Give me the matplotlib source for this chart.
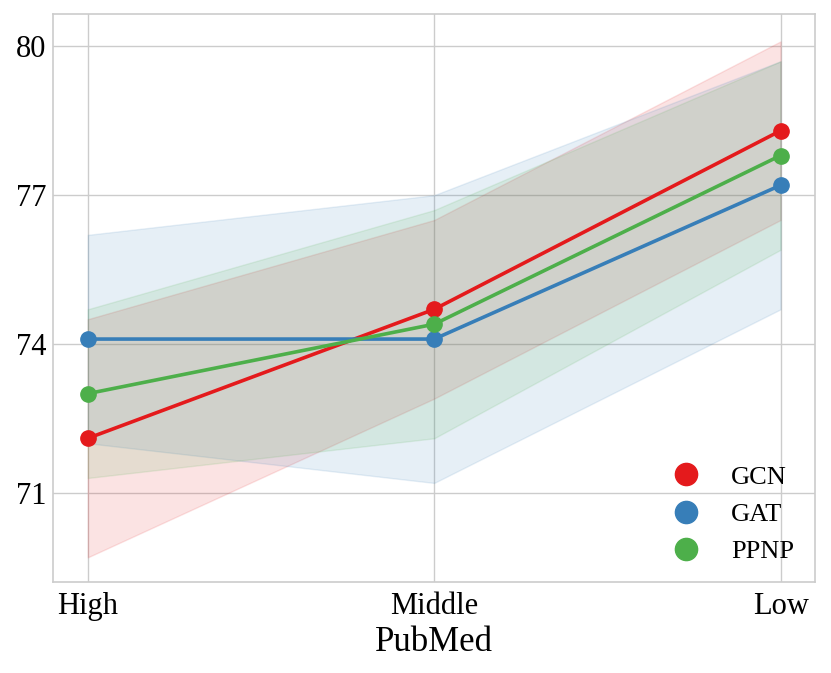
import numpy as np
import matplotlib.pyplot as plt
from matplotlib.lines import Line2D

# Data
levels = ["High", "Middle", "Low"]
models = ["GCN", "GAT", "PPNP"]
colors = ["#e41a1c", "#377eb8", "#4daf4a"]

gcn_mean = [72.1, 74.7, 78.3]
gcn_low = [69.7, 72.9, 76.5]
gcn_high = [74.5, 76.5, 80.1]

gat_mean = [74.1, 74.1, 77.2]
gat_low = [72.0, 71.2, 74.7]
gat_high = [76.2, 77.0, 79.7]

ppnp_mean = [73.0, 74.4, 77.8]
ppnp_low = [71.3, 72.1, 75.9]
ppnp_high = [74.7, 76.7, 79.7]

means = [gcn_mean, gat_mean, ppnp_mean]
lows = [gcn_low, gat_low, ppnp_low]
highs = [gcn_high, gat_high, ppnp_high]

plt.rcParams['font.family'] = ['Liberation Serif', 'DejaVu Serif']

fig, ax = plt.subplots(figsize=(8.31, 6.73), dpi=100)
fig.subplots_adjust(left=0.064, right=0.981, top=0.979, bottom=0.135)

x = np.arange(len(levels))
for name, c, m, lo, hi in zip(models, colors, means, lows, highs):
    ax.fill_between(x, lo, hi, color=c, alpha=0.12, linewidth=1)
    ax.plot(x, m, color=c, linewidth=2.6, marker='o', markersize=11, label=name)

ax.set_xlim(-0.1, 2.1)
ax.set_ylim(69.2, 80.65)
ax.set_xticks(x)
ax.set_xticklabels(levels)
ax.set_yticks([71, 74, 77, 80])
ax.tick_params(labelsize=22, length=0)
ax.tick_params(axis='x', pad=7)
ax.tick_params(axis='y', pad=5)
ax.set_xlabel("PubMed", fontsize=25, labelpad=4)

ax.grid(True, color='#cccccc', linewidth=1)
ax.set_axisbelow(True)
for s in ax.spines.values():
    s.set_color('#cccccc')
    s.set_linewidth(1.2)

handles = [Line2D([], [], linestyle='none', marker='o', markersize=16, color=c) for c in colors]
ax.legend(handles, models, loc='lower right', frameon=False, fontsize=19,
          handletextpad=0.7, labelspacing=0.52, bbox_to_anchor=(1.003, -0.008))

fig.savefig("out.png", dpi=100)
